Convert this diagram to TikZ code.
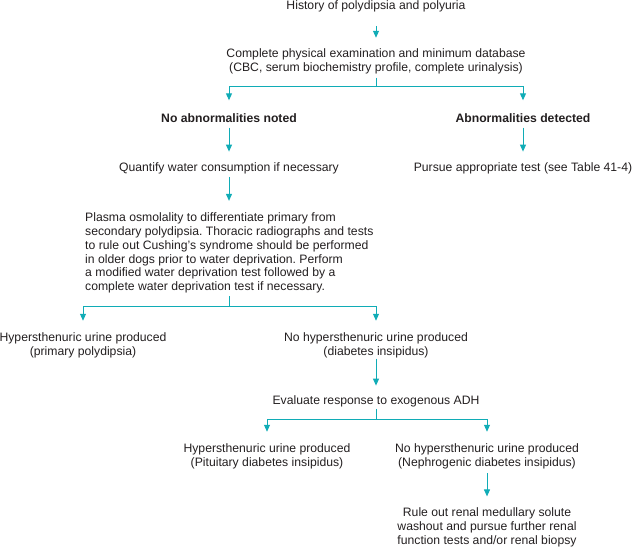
\documentclass[tikz,border=0pt]{standalone}
\usepackage{fontspec}
\setmainfont{Liberation Sans}
\usetikzlibrary{arrows.meta}
\definecolor{tealc}{RGB}{16,172,182}
\definecolor{inkc}{RGB}{35,31,32}
\frenchspacing
\begin{document}
\begin{tikzpicture}[x=1pt,y=-1pt,
  txt/.style={inner sep=0pt, align=center, text=inkc, font=\fontsize{12.2}{13.7}\selectfont},
  bld/.style={txt, font=\fontsize{12.2}{13.7}\selectfont\bfseries},
  ln/.style={draw=tealc, line width=1pt},
  arr/.style={ln, -{Triangle[width=6pt,length=7pt]}, shorten >=11.5pt}]
\useasboundingbox (0,0) rectangle (632,548);

\node[txt] (n1) at (376,6) {History of polydipsia and polyuria};
\node[txt] (n2) at (376,61) {Complete physical examination and minimum database\\(CBC, serum biochemistry profile, complete urinalysis)};
\node[bld] (n3) at (229,118) {No abnormalities noted};
\node[bld] (n4) at (523,118) {Abnormalities detected};
\node[txt] (n5) at (229,168) {Quantify water consumption if necessary};
\node[txt] (n6) at (523,168) {Pursue appropriate test (see Table 41-4)};
\node[txt, align=left, anchor=west] (n7) at (85,253) {Plasma osmolality to differentiate primary from\\secondary polydipsia. Thoracic radiographs and tests\\to rule out Cushing’s syndrome should be performed\\in older dogs prior to water deprivation. Perform\\a modified water deprivation test followed by a\\complete water deprivation test if necessary.};
\node[txt] (n8) at (83,345) {Hypersthenuric urine produced\\(primary polydipsia)};
\node[txt] (n9) at (376,345) {No hypersthenuric urine produced\\(diabetes insipidus)};
\node[txt] (n10) at (376,401) {Evaluate response to exogenous ADH};
\node[txt] (n11) at (267,456.5) {Hypersthenuric urine produced\\(Pituitary diabetes insipidus)};
\node[txt] (n12) at (487,456.5) {No hypersthenuric urine produced\\(Nephrogenic diabetes insipidus)};
\node[txt] (n13) at (487,527.5) {Rule out renal medullary solute\\washout and pursue further renal\\function tests and/or renal biopsy};

\coordinate (j2) at (376,87);
\coordinate (j7) at (229,306);
\coordinate (j10) at (376,419);

\draw[arr, shorten <=14pt, shorten >=10.5pt] (n1) -- (n2);
\draw[ln, shorten <=4pt] (n2) -- (j2);
\draw[arr, shorten >=13pt] (j2) -| (n3);
\draw[arr, shorten >=13pt] (j2) -| (n4);
\draw[arr, shorten <=5pt, shorten >=10.5pt] (n3) -- (n5);
\draw[arr, shorten <=5pt, shorten >=10.5pt] (n4) -- (n6);
\draw[arr, shorten <=3pt, shorten >=12pt] (n5) -- (n5 |- n7.north);
\draw[ln, shorten <=3pt] (n7.south -| j7) -- (j7);
\draw[arr] (j7) -| (n8);
\draw[arr] (j7) -| (n9);
\draw[arr, shorten <=1pt, shorten >=9.5pt] (n9) -- (n10);
\draw[ln, shorten <=2pt] (n10) -- (j10);
\draw[arr, shorten >=12pt] (j10) -| (n11);
\draw[arr, shorten >=12pt] (j10) -| (n12);
\draw[arr, shorten <=4pt] (n12) -- (n13);
\end{tikzpicture}
\end{document}
